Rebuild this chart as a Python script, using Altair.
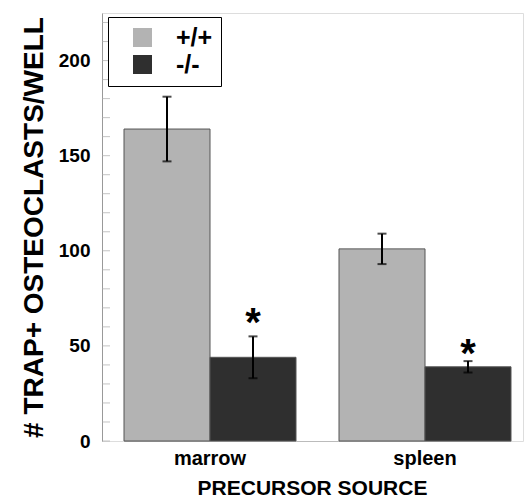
import altair as alt
import pandas as pd

sources = ["marrow", "marrow", "spleen", "spleen"]
genotypes = ["+/+", "-/-", "+/+", "-/-"]
means = [164, 44, 101, 39]
errors = [17, 11, 8, 3]
star_sources = ["marrow", "spleen"]
star_genotypes = ["-/-", "-/-"]
star_y = [64, 48]
minor_ticks = list(range(0, 230, 10))

df = pd.DataFrame({"source": sources, "genotype": genotypes, "mean": means, "err": errors})
df["lo"] = df["mean"] - df["err"]
df["hi"] = df["mean"] + df["err"]
stars = pd.DataFrame({"source": star_sources, "genotype": star_genotypes, "y": star_y, "t": ["*", "*"]})
ticks = pd.DataFrame({"v": minor_ticks})

font = "Liberation Sans"
ysc = alt.Scale(domain=[0, 225], nice=False)
xenc = alt.X("source:N", sort=["marrow", "spleen"],
             scale=alt.Scale(range=[22, 409], paddingInner=0.2, paddingOuter=0),
             axis=alt.Axis(title="PRECURSOR SOURCE", labelAngle=0, labelFontSize=20, labelFont=font,
                           labelFontWeight="bold", titleFontSize=21, titleFont=font, titleFontWeight="bold",
                           ticks=False, domainColor="#bbbbbb", labelPadding=7, titlePadding=9,
                           labelColor="black", titleX=210))
xoff = alt.XOffset("genotype:N", sort=["+/+", "-/-"])

bars = alt.Chart(df).mark_bar(stroke="#555555", strokeWidth=1).encode(
    x=xenc, xOffset=xoff,
    y=alt.Y("mean:Q", scale=ysc,
            axis=alt.Axis(title="# TRAP+ OSTEOCLASTS/WELL", values=[0, 50, 100, 150, 200], labelFontSize=19,
                          labelFont=font, labelFontWeight="bold", titleFontSize=28, titleFont=font,
                          titleFontWeight="bold", ticks=False, domainColor="#999999", labelPadding=12,
                          titlePadding=10, grid=False, labelColor="black")),
    color=alt.Color("genotype:N", sort=["+/+", "-/-"],
                    scale=alt.Scale(domain=["+/+", "-/-"], range=["#b3b3b3", "#2f2f2f"]),
                    legend=alt.Legend(title=None, orient="none", legendX=6, legendY=4, symbolType="square",
                                      symbolSize=361, symbolStrokeWidth=0, labelFontSize=25, labelFont=font,
                                      labelFontWeight="bold", strokeColor="black", padding=8,
                                      rowPadding=1, symbolOffset=14, labelOffset=21, fillColor="white",
                                      symbolOpacity=1)),
)

rules = alt.Chart(df).mark_rule(color="black", strokeWidth=2).encode(
    x=xenc, xOffset=xoff, y=alt.Y("lo:Q", scale=ysc), y2="hi:Q")
caps_hi = alt.Chart(df).mark_tick(color="black", thickness=2, size=9, orient="horizontal").encode(
    x=xenc, xOffset=xoff, y=alt.Y("hi:Q", scale=ysc))
caps_lo = alt.Chart(df).mark_tick(color="black", thickness=2, size=9, orient="horizontal").encode(
    x=xenc, xOffset=xoff, y=alt.Y("lo:Q", scale=ysc))
star = alt.Chart(stars).mark_text(fontSize=40, font=font, fontWeight="bold", baseline="middle", dy=5,
                                  color="black").encode(
    x=xenc, xOffset=xoff, y=alt.Y("y:Q", scale=ysc), text="t:N")
tk = alt.Chart(ticks).mark_tick(color="#aaaaaa", thickness=1, size=8, orient="horizontal").encode(
    x=alt.value(4), y=alt.Y("v:Q", scale=ysc))

chart = alt.layer(tk, bars, rules, caps_hi, caps_lo, star).properties(
    width=421, height=428,
    padding={"left": 102, "top": 13, "right": 2, "bottom": 58},
    autosize=alt.AutoSizeParams(type="none"),
).configure_view(stroke="#cccccc", strokeWidth=1).configure_legend(strokeWidth=2).configure(background="white")

chart.save("out.html", embed_options={"renderer": "svg", "actions": False})
